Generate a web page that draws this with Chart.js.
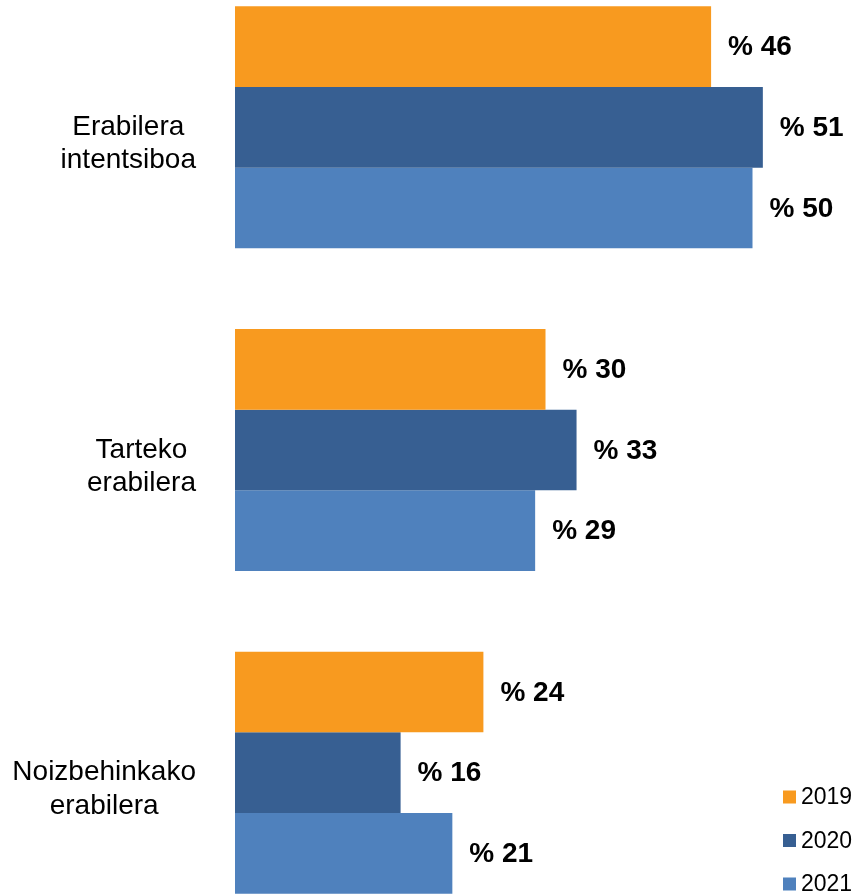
<!DOCTYPE html>
<html><head><meta charset="utf-8">
<script src="https://cdn.jsdelivr.net/npm/chart.js@4/dist/chart.umd.min.js"></script>
<style>
html,body{margin:0;padding:0;background:#fff;overflow:hidden;width:856px;height:894px;}
#wrap{position:absolute;left:0;top:-34px;width:856px;height:968px;}
</style></head>
<body><div id="wrap"><canvas id="c"></canvas></div>
<script>
const categories = [["Erabilera","intentsiboa"],["Tarteko","erabilera"],["Noizbehinkako","erabilera"]];
const seriesNames = ["2019","2020","2021"];
const values2019 = [46,30,24];
const values2020 = [51,33,16];
const values2021 = [50,29,21];
const colors = ["#F89A1F","#375F92","#4F81BD"];

const labelPlugin = {
  id:'customLabels',
  afterDatasetsDraw(chart){
    const ctx = chart.ctx;
    ctx.save();
    // value labels
    ctx.font = 'bold 28px "Liberation Sans", Arial, sans-serif';
    ctx.fillStyle = '#000';
    ctx.textBaseline = 'middle';
    ctx.textAlign = 'left';
    chart.data.datasets.forEach((ds,i)=>{
      chart.getDatasetMeta(i).data.forEach((bar,j)=>{
        ctx.fillText('% ' + ds.data[j], bar.x + 17, bar.y + 1);
      });
    });
    // category labels
    const ys = chart.scales.y;
    ctx.font = '28px "Liberation Sans", Arial, sans-serif';
    ctx.textBaseline = 'alphabetic';
    ctx.textAlign = 'center';
    const right = 196;
    chart.data.labels.forEach((lines,j)=>{
      const cy = ys.getPixelForTick(j);
      const w = Math.max(...lines.map(l=>ctx.measureText(l).width));
      const cx = right - w/2;
      lines.forEach((l,k)=>ctx.fillText(l, cx, cy + 7.5 + k*33.5));
    });
    // legend
    ctx.font = '23px "Liberation Sans", Arial, sans-serif';
    ctx.textAlign = 'left';
    ctx.textBaseline = 'middle';
    chart.data.datasets.forEach((ds,i)=>{
      const y = 34 + 797 + i*43.5;
      ctx.fillStyle = ds.backgroundColor;
      ctx.fillRect(783, y-6.5, 13, 13);
      ctx.fillStyle = '#000';
      ctx.fillText(ds.label, 801, y+1);
    });
    ctx.restore();
  }
};

new Chart(document.getElementById('c'), {
  type:'bar',
  data:{
    labels: categories,
    datasets:[
      {label:seriesNames[0], data:values2019, backgroundColor:colors[0]},
      {label:seriesNames[1], data:values2020, backgroundColor:colors[1]},
      {label:seriesNames[2], data:values2021, backgroundColor:colors[2]}
    ]
  },
  options:{
    indexAxis:'y',
    responsive:true,
    maintainAspectRatio:false,
    animation:false,
    layout:{padding:{left:235,right:0,top:0,bottom:0}},
    datasets:{bar:{categoryPercentage:0.75,barPercentage:1.0}},
    scales:{
      x:{display:false,min:0,max:60},
      y:{display:false}
    },
    plugins:{legend:{display:false},tooltip:{enabled:false}}
  },
  plugins:[labelPlugin]
});
</script></body></html>
